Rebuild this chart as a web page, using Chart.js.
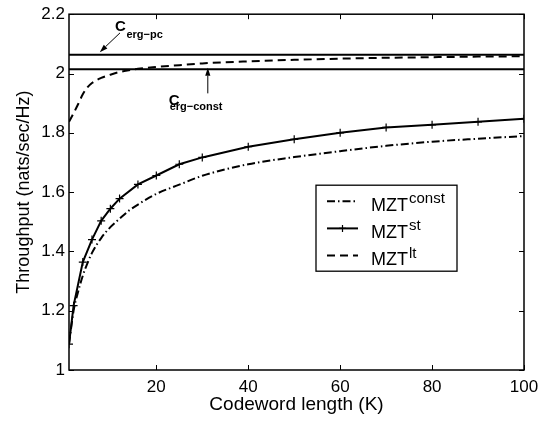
<!DOCTYPE html>
<html>
<head>
<meta charset="utf-8">
<script src="https://cdn.jsdelivr.net/npm/chart.js@4.4.0/dist/chart.umd.min.js"></script>
<style>
  html, body { margin: 0; padding: 0; background: #fff; }
</style>
</head>
<body>
<canvas id="chart" width="551" height="421"></canvas>
<script>
// ── data ──────────────────────────────────────────────────
const kDense = [1, 2, 3, 4, 5, 6, 8, 10, 12, 14, 16, 20, 25, 30, 40, 50, 60, 70, 80, 90, 100];
const mztConst = [1.087, 1.200, 1.265, 1.318, 1.360, 1.395, 1.445, 1.482, 1.510, 1.537, 1.558, 1.594, 1.625, 1.655, 1.694, 1.718, 1.738, 1.756, 1.770, 1.780, 1.789];
const mztLt = [1.837, 1.866, 1.897, 1.930, 1.953, 1.968, 1.985, 1.996, 2.005, 2.011, 2.016, 2.022, 2.028, 2.034, 2.041, 2.046, 2.050, 2.053, 2.055, 2.057, 2.058];

const kMarked = [1, 2, 4, 6, 8, 10, 12, 16, 20, 25, 30, 40, 50, 60, 70, 80, 90, 100];
const mztSt = [1.087, 1.217, 1.364, 1.440, 1.503, 1.544, 1.578, 1.626, 1.656, 1.694, 1.717, 1.753, 1.778, 1.800, 1.818, 1.827, 1.837, 1.847];

const kRange = [1, 100];
const cErgPc = 2.063;
const cErgConst = 2.014;

const xTicks = [20, 40, 60, 80, 100];
const yTicks = [1, 1.2, 1.4, 1.6, 1.8, 2, 2.2];

const legendBase = 'MZT';
const legendSup = ['const', 'st', 'lt'];

const FONT = "'Liberation Sans', Arial, Helvetica, sans-serif";

const pairs = (xs, ys) => xs.map((x, i) => ({ x, y: ys[i] }));
const flat = v => kRange.map(x => ({ x, y: v }));

// annotation labels, anchored in data units
const notes = [
  { main: 'C', sub: 'erg\u2212pc', at: [11.0, 2.143], subAt: [13.5, 2.120], arrow: [[12.1, 2.137], [7.7, 2.072]] },
  { main: 'C', sub: 'erg\u2212const', at: [22.7, 1.893], subAt: [22.9, 1.878], arrow: [[31.2, 1.933], [31.2, 2.019]] },
];

function arrow(ctx, x0, y0, x1, y1) {
  const ang = Math.atan2(y1 - y0, x1 - x0);
  const len = 8, half = 2.6;
  ctx.beginPath();
  ctx.moveTo(x0, y0);
  ctx.lineTo(x1 - Math.cos(ang) * len, y1 - Math.sin(ang) * len);
  ctx.stroke();
  ctx.beginPath();
  ctx.moveTo(x1, y1);
  ctx.lineTo(x1 - Math.cos(ang) * len - Math.sin(ang) * half, y1 - Math.sin(ang) * len + Math.cos(ang) * half);
  ctx.lineTo(x1 - Math.cos(ang) * len + Math.sin(ang) * half, y1 - Math.sin(ang) * len - Math.cos(ang) * half);
  ctx.closePath();
  ctx.fill();
}

// MATLAB-ish frame: box, inward ticks, legend, annotations
const frame = {
  id: 'frame',
  afterDatasetsDraw(chart) {
    const { ctx, chartArea: a, scales: { x, y } } = chart;
    ctx.save();
    ctx.strokeStyle = '#000';
    ctx.fillStyle = '#000';

    ctx.lineWidth = 1;
    ctx.beginPath();
    x.ticks.forEach(t => {
      const px = Math.round(x.getPixelForValue(t.value)) + 0.5;
      ctx.moveTo(px, a.bottom); ctx.lineTo(px, a.bottom - 5);
      ctx.moveTo(px, a.top); ctx.lineTo(px, a.top + 5);
    });
    y.ticks.forEach(t => {
      const py = Math.round(y.getPixelForValue(t.value)) + 0.5;
      ctx.moveTo(a.left, py); ctx.lineTo(a.left + 5, py);
      ctx.moveTo(a.right, py); ctx.lineTo(a.right - 5, py);
    });
    ctx.stroke();

    ctx.lineWidth = 1.5;
    ctx.strokeRect(a.left, a.top, a.right - a.left, a.bottom - a.top);

    // legend
    const bx = a.left + 247, by = a.top + 171, bw = 141, bh = 86;
    ctx.fillStyle = '#fff';
    ctx.fillRect(bx, by, bw, bh);
    ctx.lineWidth = 1.3;
    ctx.strokeRect(bx, by, bw, bh);
    ctx.fillStyle = '#000';
    [0, 1, 2].forEach((di, row) => {
      const ds = chart.data.datasets[di];
      const ry = by + 16 + row * 27.2;
      ctx.save();
      ctx.lineWidth = ds.borderWidth;
      ctx.setLineDash(ds.borderDash || []);
      ctx.beginPath();
      ctx.moveTo(bx + 11, ry); ctx.lineTo(bx + 42, ry);
      ctx.stroke();
      ctx.restore();
      if (ds.pointRadius) {
        ctx.lineWidth = 1.2;
        ctx.beginPath();
        ctx.moveTo(bx + 23, ry); ctx.lineTo(bx + 30, ry);
        ctx.moveTo(bx + 26.5, ry - 3.5); ctx.lineTo(bx + 26.5, ry + 3.5);
        ctx.stroke();
      }
      ctx.textBaseline = 'alphabetic';
      ctx.textAlign = 'left';
      ctx.font = '18px ' + FONT;
      ctx.fillText(legendBase, bx + 55, ry + 9.5);
      const w = ctx.measureText(legendBase).width;
      ctx.font = '15px ' + FONT;
      ctx.fillText(legendSup[row], bx + 56 + w, ry + 2);
    });

    // annotations
    ctx.lineWidth = 1;
    notes.forEach(n => {
      ctx.font = 'bold 15px ' + FONT;
      ctx.fillText(n.main, x.getPixelForValue(n.at[0]), y.getPixelForValue(n.at[1]));
      ctx.font = 'bold 11px ' + FONT;
      ctx.fillText(n.sub, x.getPixelForValue(n.subAt[0]), y.getPixelForValue(n.subAt[1]));
      arrow(ctx,
        x.getPixelForValue(n.arrow[0][0]), y.getPixelForValue(n.arrow[0][1]),
        x.getPixelForValue(n.arrow[1][0]), y.getPixelForValue(n.arrow[1][1]));
    });
    ctx.restore();
  }
};

new Chart(document.getElementById('chart'), {
  type: 'line',
  data: {
    datasets: [
      {
        label: 'MZT const',
        data: pairs(kDense, mztConst),
        borderColor: '#000',
        borderWidth: 2,
        borderDash: [8, 3, 1.5, 3],
        pointRadius: 0,
        cubicInterpolationMode: 'monotone',
      },
      {
        label: 'MZT st',
        data: pairs(kMarked, mztSt),
        borderColor: '#000',
        borderWidth: 2,
        pointStyle: 'cross',
        pointRadius: 4,
        pointBorderWidth: 1.2,
        pointBorderColor: '#000',
        tension: 0,
      },
      {
        label: 'MZT lt',
        data: pairs(kDense, mztLt),
        borderColor: '#000',
        borderWidth: 2,
        borderDash: [8, 5],
        pointRadius: 0,
        cubicInterpolationMode: 'monotone',
      },
      {
        label: 'C erg-pc',
        data: flat(cErgPc),
        borderColor: '#000',
        borderWidth: 2,
        pointRadius: 0,
      },
      {
        label: 'C erg-const',
        data: flat(cErgConst),
        borderColor: '#000',
        borderWidth: 2,
        pointRadius: 0,
      },
    ],
  },
  options: {
    responsive: false,
    devicePixelRatio: 1,
    animation: false,
    events: [],
    layout: { padding: { top: 10, right: 27, left: 0, bottom: 0 } },
    plugins: {
      legend: { display: false },
      tooltip: { enabled: false },
    },
    scales: {
      x: {
        type: 'linear',
        min: kRange[0],
        max: kRange[1],
        afterBuildTicks: s => { s.ticks = xTicks.map(v => ({ value: v })); },
        afterFit: s => { s.height = 51; },
        grid: { display: false, drawTicks: false },
        border: { display: false },
        ticks: { color: '#000', font: { family: FONT, size: 17 }, padding: 7, maxRotation: 0 },
        title: { display: true, text: 'Codeword length (K)', color: '#000', font: { family: FONT, size: 19 }, padding: { top: 0, bottom: 5 } },
      },
      y: {
        type: 'linear',
        min: 1,
        max: 2.2,
        afterBuildTicks: s => { s.ticks = yTicks.map(v => ({ value: v })); },
        afterFit: s => { s.width = 69; },
        grid: { display: false, drawTicks: false },
        border: { display: false },
        ticks: { color: '#000', font: { family: FONT, size: 17 }, padding: 4, callback: v => String(+v.toFixed(1)) },
        title: { display: true, text: 'Throughput (nats/sec/Hz)', color: '#000', font: { family: FONT, size: 18 }, padding: { top: 13, bottom: 0 } },
      },
    },
  },
  plugins: [frame],
});
</script>
</body>
</html>
